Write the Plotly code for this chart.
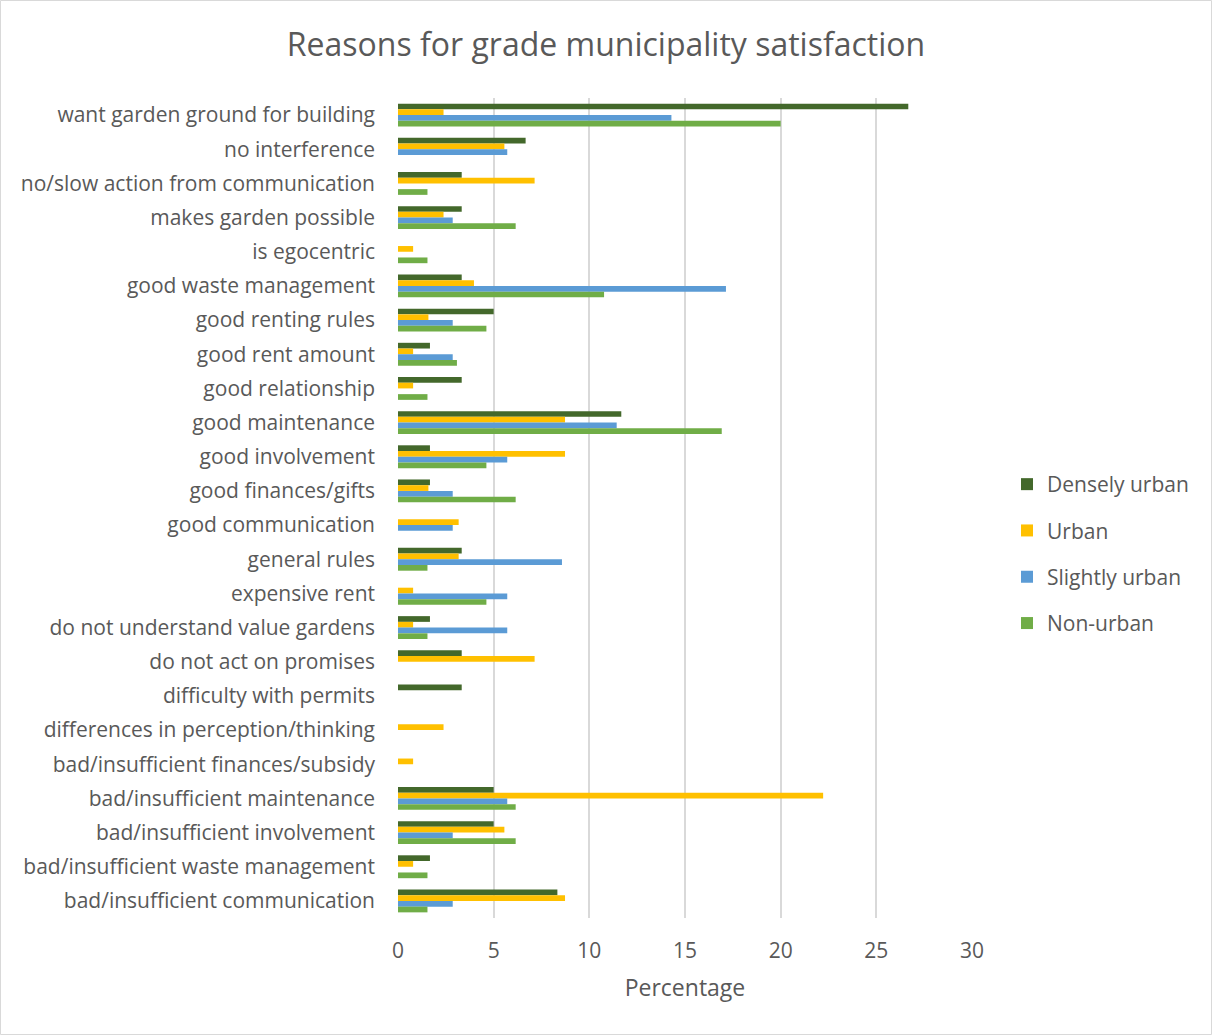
import plotly.graph_objects as go

# Reasons, listed from top to bottom of the chart
categories = [
    "want garden ground for building",
    "no interference",
    "no/slow action from communication",
    "makes garden possible",
    "is egocentric",
    "good waste management",
    "good renting rules",
    "good rent amount",
    "good relationship",
    "good maintenance",
    "good involvement",
    "good finances/gifts",
    "good communication",
    "general rules",
    "expensive rent",
    "do not understand value gardens",
    "do not act on promises",
    "difficulty with permits",
    "differences in perception/thinking",
    "bad/insufficient finances/subsidy",
    "bad/insufficient maintenance",
    "bad/insufficient involvement",
    "bad/insufficient waste management",
    "bad/insufficient communication",
]

densely_urban = [26.67, 6.67, 3.33, 3.33, 0, 3.33, 5.0, 1.67, 3.33, 11.67, 1.67, 1.67,
                 0, 3.33, 0, 1.67, 3.33, 3.33, 0, 0, 5.0, 5.0, 1.67, 8.33]
urban = [2.38, 5.56, 7.14, 2.38, 0.79, 3.97, 1.59, 0.79, 0.79, 8.73, 8.73, 1.59,
         3.17, 3.17, 0.79, 0.79, 7.14, 0, 2.38, 0.79, 22.22, 5.56, 0.79, 8.73]
slightly_urban = [14.29, 5.71, 0, 2.86, 0, 17.14, 2.86, 2.86, 0, 11.43, 5.71, 2.86,
                  2.86, 8.57, 5.71, 5.71, 0, 0, 0, 0, 5.71, 2.86, 0, 2.86]
non_urban = [20.0, 0, 1.54, 6.15, 1.54, 10.77, 4.62, 3.08, 1.54, 16.92, 4.62, 6.15,
             0, 1.54, 4.62, 1.54, 0, 0, 0, 0, 6.15, 6.15, 1.54, 1.54]

series_names = ["Densely urban", "Urban", "Slightly urban", "Non-urban"]
series_values = [densely_urban, urban, slightly_urban, non_urban]
series_colors = ["#43682B", "#FFC000", "#5B9BD5", "#70AD47"]

FONT = "Open Sans"
TEXT = "#595959"

fig = go.Figure()
for name, vals, color in zip(series_names, series_values, series_colors):
    fig.add_trace(go.Bar(
        y=categories, x=vals, name=name, orientation="h",
        marker=dict(color=color, line=dict(width=0)),
        legendgroup=name,
    ))

W, H = 1212, 1035
L, R, T, B = 398, 972, 98, 918

fig.update_layout(
    width=W, height=H,
    barmode="group", bargap=0.33, bargroupgap=0,
    paper_bgcolor="white", plot_bgcolor="white",
    margin=dict(l=L, r=W - R, t=T, b=H - B, autoexpand=False),
    font=dict(family=FONT, color=TEXT, size=21),
    title=dict(text="Reasons for grade municipality satisfaction",
               x=0.5, xref="container", xanchor="center",
               y=1 - 45 / H, yref="container", yanchor="middle",
               font=dict(family=FONT, size=32, color=TEXT)),
    xaxis=dict(range=[0, 30], dtick=5, showgrid=True, gridcolor="#D9D9D9", gridwidth=2,
               zeroline=False, showline=False, ticks="",
               tickfont=dict(size=21, color=TEXT), ticklabelstandoff=18,
               title=dict(text="Percentage", font=dict(size=23, color=TEXT), standoff=16)),
    yaxis=dict(autorange="reversed", showgrid=False, zeroline=False, showline=False,
               ticks="", tickfont=dict(size=21, color=TEXT), ticklabelstandoff=22,
               categoryorder="array", categoryarray=categories),
    legend=dict(x=(1007 - L) / (R - L), xanchor="left",
                y=(B - 554) / (B - T), yanchor="middle",
                traceorder="grouped", tracegroupgap=16,
                font=dict(size=21, color=TEXT), itemwidth=30),
    showlegend=True,
)

# light frame around the whole chart
fig.add_shape(type="rect", xref="paper", yref="paper",
              x0=(0.5 - L) / (R - L), x1=(W - 0.5 - L) / (R - L),
              y0=(B - (H - 0.5)) / (B - T), y1=(B - 0.5) / (B - T),
              line=dict(color="#D9D9D9", width=1), fillcolor="rgba(0,0,0,0)", layer="below")

fig.write_html("out.html")
